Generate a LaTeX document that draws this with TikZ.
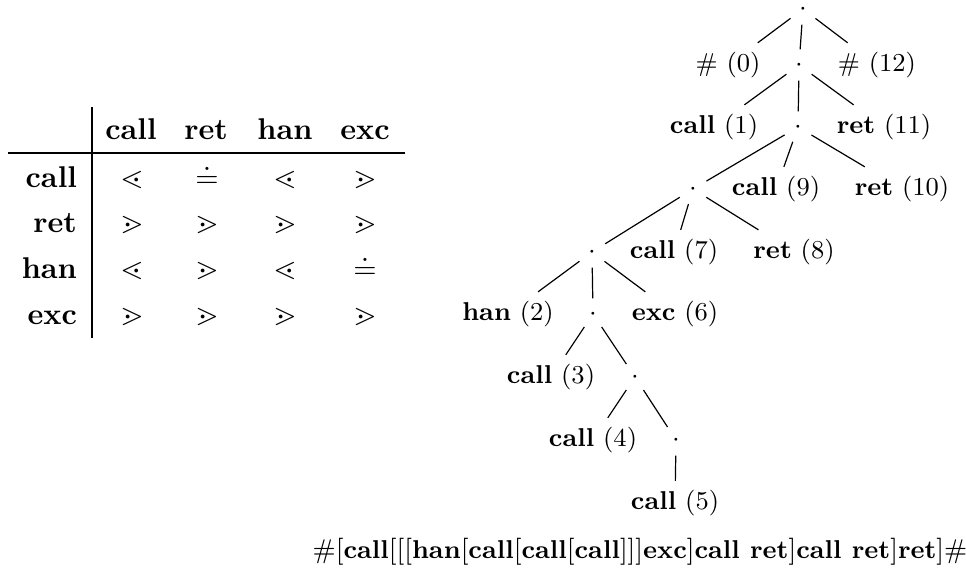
\documentclass[tikz,border=0pt]{standalone}
\usepackage{amssymb}
\newcommand{\trfont}{\fontsize{8.6}{10}\selectfont}
\begin{document}
\begin{tikzpicture}[x=0.33333pt,y=-0.33333pt,
  tnode/.style={font=\trfont, inner xsep=2pt, inner ysep=2.85pt, text height=6.5pt, text depth=2.2pt},
  dnode/.style={font=\trfont, circle, inner sep=0pt, minimum size=10pt, text height=4.3pt, text depth=0pt},
  cell/.style={anchor=base, inner sep=0pt},
  rlab/.style={anchor=base east, inner sep=0pt},
  rule/.style={line width=0.4pt},
  edge/.style={line width=0.4pt}]
\useasboundingbox (0,0) rectangle (966,570);

% ---------- table ----------
\coordinate (vt) at (92,107);
\coordinate (vb) at (92,338);
\coordinate (hl) at (8,153);
\coordinate (hr) at (405,153);
\draw[rule] (vt) -- (vb);
\draw[rule] (hl) -- (hr);

\node[cell] (hc) at (131,139) {\textbf{call}};
\node[cell] (hrt) at (206,139) {\textbf{ret}};
\node[cell] (hh) at (285,139) {\textbf{han}};
\node[cell] (he) at (365,139) {\textbf{exc}};

\node[rlab] (lc) at (77.5,187) {\textbf{call}};
\node[rlab] (lr) at (77.5,232) {\textbf{ret}};
\node[rlab] (lh) at (77.5,278) {\textbf{han}};
\node[rlab] (le) at (77.5,324) {\textbf{exc}};

\node[cell] (a11) at (132,187) {$\lessdot$};
\node[cell] (a12) at (207,187) {$\doteq$};
\node[cell] (a13) at (285,187) {$\lessdot$};
\node[cell] (a14) at (365,187) {$\gtrdot$};

\node[cell] (a21) at (132,232) {$\gtrdot$};
\node[cell] (a22) at (207,232) {$\gtrdot$};
\node[cell] (a23) at (285,232) {$\gtrdot$};
\node[cell] (a24) at (365,232) {$\gtrdot$};

\node[cell] (a31) at (132,278) {$\lessdot$};
\node[cell] (a32) at (207,278) {$\gtrdot$};
\node[cell] (a33) at (285,278) {$\lessdot$};
\node[cell] (a34) at (365,278) {$\doteq$};

\node[cell] (a41) at (132,324) {$\gtrdot$};
\node[cell] (a42) at (207,324) {$\gtrdot$};
\node[cell] (a43) at (285,324) {$\gtrdot$};
\node[cell] (a44) at (365,324) {$\gtrdot$};

% ---------- tree ----------
\node[dnode] (r) at (803,9) {$\cdot$};
\node[tnode] (h0) at (728,65) {\# (0)};
\node[dnode] (d1) at (799,65) {$\cdot$};
\node[tnode] (h12) at (877,65) {\# (12)};
\node[tnode] (c1) at (714,127) {\textbf{call} (1)};
\node[dnode] (d2) at (798,127) {$\cdot$};
\node[tnode] (r11) at (884,127) {\textbf{ret} (11)};
\node[dnode] (d3) at (693,189) {$\cdot$};
\node[tnode] (c9) at (776,189) {\textbf{call} (9)};
\node[tnode] (r10) at (902,189) {\textbf{ret} (10)};
\node[dnode] (d4) at (592,252) {$\cdot$};
\node[tnode] (c7) at (674,252) {\textbf{call} (7)};
\node[tnode] (r8) at (794,252) {\textbf{ret} (8)};
\node[tnode] (h2) at (508,314) {\textbf{han} (2)};
\node[dnode] (d5) at (593,314) {$\cdot$};
\node[tnode] (e6) at (675,314) {\textbf{exc} (6)};
\node[tnode] (c3) at (551,377) {\textbf{call} (3)};
\node[dnode] (d6) at (635,377) {$\cdot$};
\node[tnode] (c4) at (593,440) {\textbf{call} (4)};
\node[dnode] (d7) at (676,440) {$\cdot$};
\node[tnode] (c5) at (675,503) {\textbf{call} (5)};

\draw[edge] (r) -- (h0);
\draw[edge] (r) -- (d1);
\draw[edge] (r) -- (h12);
\draw[edge] (d1) -- (c1);
\draw[edge] (d1) -- (d2);
\draw[edge] (d1) -- (r11);
\draw[edge] (d2) -- (d3);
\draw[edge] (d2) -- (c9);
\draw[edge] (d2) -- (r10);
\draw[edge] (d3) -- (d4);
\draw[edge] (d3) -- (c7);
\draw[edge] (d3) -- (r8);
\draw[edge] (d4) -- (h2);
\draw[edge] (d4) -- (d5);
\draw[edge] (d4) -- (e6);
\draw[edge] (d5) -- (c3);
\draw[edge] (d5) -- (d6);
\draw[edge] (d6) -- (c4);
\draw[edge] (d6) -- (d7);
\draw[edge] (d7) -- (c5);

% ---------- string ----------
\node[cell, font=\trfont] (str) at (640,558.5) {$\#[\textbf{call}[[[\textbf{han}[\textbf{call}[\textbf{call}[\textbf{call}]]]\textbf{exc}]\textbf{call ret}]\textbf{call ret}]\textbf{ret}]\#$};
\end{tikzpicture}
\end{document}
